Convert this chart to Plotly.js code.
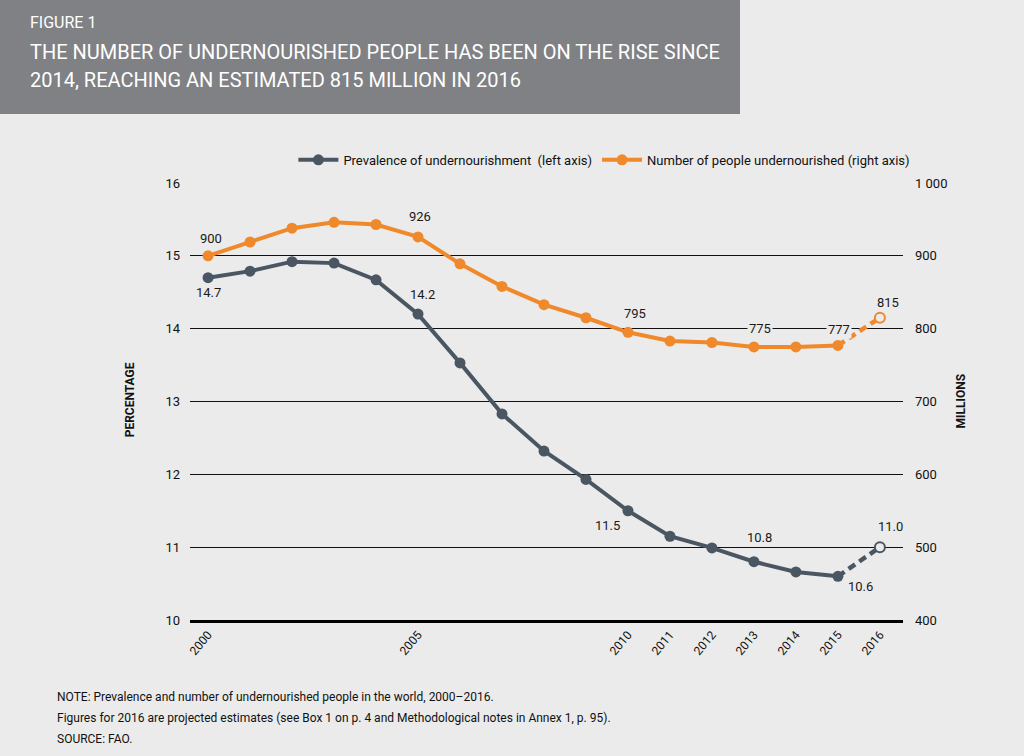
<!DOCTYPE html>
<html>
<head>
<meta charset="utf-8">
<script src="https://cdn.plot.ly/plotly-3.0.1.min.js"></script>
<style>
  html, body { margin: 0; padding: 0; background: #ebebeb; }
  #chart { width: 1024px; height: 756px; }
</style>
</head>
<body>
<div id="chart"></div>
<script>
// ---- data ----
const years = [2000, 2001, 2002, 2003, 2004, 2005, 2006, 2007, 2008, 2009, 2010, 2011, 2012, 2013, 2014, 2015, 2016];
const prevalence = [14.7, 14.79, 14.92, 14.90, 14.67, 14.2, 13.53, 12.83, 12.32, 11.93, 11.5, 11.15, 10.99, 10.8, 10.66, 10.6, 11.0];
const numberUnder = [900, 919, 938, 946, 943, 926, 889, 858, 833, 815, 795, 783, 781, 775, 775, 777, 815];
const xTickYears = [2000, 2005, 2010, 2011, 2012, 2013, 2014, 2015, 2016];
const leftTicks = [10, 11, 12, 13, 14, 15, 16];
const rightTicks = [400, 500, 600, 700, 800, 900, 1000];
const rightTickText = ['400', '500', '600', '700', '800', '900', '1 000'];
const prevLabelYears = [2000, 2005, 2010, 2013, 2015, 2016];
const numLabelYears = [2000, 2005, 2010, 2013, 2015, 2016];

const FONT = "Roboto, 'Liberation Sans', sans-serif";
const DARK = '#4a5762';
const ORANGE = '#f0892b';
const BG = '#ebebeb';

const lastSolid = years.length - 1; // index of 2016 (projected)
const solidYears = years.slice(0, lastSolid);

const traces = [
  {
    x: solidYears, y: prevalence.slice(0, lastSolid), yaxis: 'y',
    name: 'Prevalence of undernourishment  (left axis)',
    mode: 'lines+markers', line: {color: DARK, width: 4},
    marker: {color: DARK, size: 11}
  },
  {
    x: solidYears, y: numberUnder.slice(0, lastSolid), yaxis: 'y2',
    name: 'Number of people undernourished (right axis)',
    mode: 'lines+markers', line: {color: ORANGE, width: 4},
    marker: {color: ORANGE, size: 11}
  },
  {
    x: years.slice(lastSolid - 1), y: prevalence.slice(lastSolid - 1), yaxis: 'y',
    mode: 'lines', line: {color: DARK, width: 4.5, dash: '8px,5px'}, showlegend: false, hoverinfo: 'skip'
  },
  {
    x: years.slice(lastSolid - 1), y: numberUnder.slice(lastSolid - 1), yaxis: 'y2',
    mode: 'lines', line: {color: ORANGE, width: 4.5, dash: '8px,5px'}, showlegend: false, hoverinfo: 'skip'
  },
  {
    x: [years[lastSolid]], y: [prevalence[lastSolid]], yaxis: 'y',
    mode: 'markers', marker: {color: BG, size: 10, line: {color: DARK, width: 2}}, showlegend: false
  },
  {
    x: [years[lastSolid]], y: [numberUnder[lastSolid]], yaxis: 'y2',
    mode: 'markers', marker: {color: BG, size: 10, line: {color: ORANGE, width: 2}}, showlegend: false
  }
];

// label offsets (px) per year for each series
const prevOffsets = {2000: [0, -15], 2005: [4, 20], 2010: [-20, -15], 2013: [6, 24], 2015: [23, -10], 2016: [11, 21]};
const numOffsets = {2000: [3, 17], 2005: [2, 20], 2010: [7, 19], 2013: [6, 18], 2015: [1, 16], 2016: [8, 15]};

const annotations = [];
prevLabelYears.forEach(yr => {
  const i = years.indexOf(yr);
  annotations.push({
    x: yr, y: prevalence[i], xref: 'x', yref: 'y', showarrow: false,
    text: prevalence[i].toFixed(1), xshift: prevOffsets[yr][0], yshift: prevOffsets[yr][1],
    font: {family: FONT, size: 13, color: '#1a1a1a'}
  });
});
numLabelYears.forEach(yr => {
  const i = years.indexOf(yr);
  const onGrid = (yr === 2013 || yr === 2015);
  annotations.push({
    x: yr, y: numberUnder[i], xref: 'x', yref: 'y2', showarrow: false,
    text: String(numberUnder[i]), xshift: numOffsets[yr][0], yshift: numOffsets[yr][1],
    bgcolor: onGrid ? BG : 'rgba(0,0,0,0)', borderpad: 1,
    font: {family: FONT, size: 13, color: '#1a1a1a'}
  });
});

// header, axis titles and notes
annotations.push(
  {xref: 'paper', yref: 'paper', x: -0.2272, y: 1.368, xanchor: 'left', yanchor: 'middle', showarrow: false,
   text: 'FIGURE 1', font: {family: FONT, size: 16, color: '#ffffff'}},
  {xref: 'paper', yref: 'paper', x: -0.2272, y: 1.300, xanchor: 'left', yanchor: 'middle', showarrow: false,
   text: 'THE NUMBER OF UNDERNOURISHED PEOPLE HAS BEEN ON THE RISE SINCE', font: {family: FONT, size: 20, color: '#ffffff'}},
  {xref: 'paper', yref: 'paper', x: -0.2272, y: 1.236, xanchor: 'left', yanchor: 'middle', showarrow: false,
   text: '2014, REACHING AN ESTIMATED 815 MILLION IN 2016', font: {family: FONT, size: 20, color: '#ffffff'}},
  {xref: 'paper', yref: 'paper', x: -0.084, y: 0.503, xanchor: 'center', yanchor: 'middle', showarrow: false,
   textangle: -90, text: '<b>PERCENTAGE</b>', font: {family: FONT, size: 12, color: '#111111'}},
  {xref: 'paper', yref: 'paper', x: 1.08, y: 0.50, xanchor: 'center', yanchor: 'middle', showarrow: false,
   textangle: -90, text: '<b>MILLIONS</b>', font: {family: FONT, size: 12, color: '#111111'}},
  {xref: 'paper', yref: 'paper', x: -0.1893, y: -0.176, xanchor: 'left', yanchor: 'middle', showarrow: false,
   text: 'NOTE: Prevalence and number of undernourished people in the world, 2000–2016.', font: {family: FONT, size: 12, color: '#111111'}},
  {xref: 'paper', yref: 'paper', x: -0.1893, y: -0.2243, xanchor: 'left', yanchor: 'middle', showarrow: false,
   text: 'Figures for 2016 are projected estimates (see Box 1 on p. 4 and Methodological notes in Annex 1, p. 95).', font: {family: FONT, size: 12, color: '#111111'}},
  {xref: 'paper', yref: 'paper', x: -0.1893, y: -0.2723, xanchor: 'left', yanchor: 'middle', showarrow: false,
   text: 'SOURCE: FAO.', font: {family: FONT, size: 12, color: '#111111'}}
);

const layout = {
  width: 1024, height: 756,
  paper_bgcolor: BG, plot_bgcolor: BG,
  margin: {l: 190, r: 121, t: 183, b: 136, pad: 0},
  font: {family: FONT, size: 13, color: '#111111'},
  showlegend: true,
  legend: {orientation: 'h', x: 0.145, y: 1.053, xanchor: 'left', yanchor: 'middle',
           bgcolor: 'rgba(0,0,0,0)', font: {family: FONT, size: 13, color: '#111111'},
           itemwidth: 40, tracegroupgap: 0},
  xaxis: {
    range: [1999.57, 2016.55], tickmode: 'array', tickvals: xTickYears, ticktext: xTickYears.map(String),
    tickangle: -50, showgrid: false, zeroline: false, showline: true, linecolor: '#000000', linewidth: 3,
    ticks: '', ticklen: 0, tickfont: {family: FONT, size: 12, color: '#111111'}, automargin: false
  },
  yaxis: {
    range: [10, 16], tickmode: 'array', tickvals: leftTicks, showgrid: true, gridcolor: '#111111', gridwidth: 1,
    zeroline: false, showline: false, ticks: '', ticklabelstandoff: 9,
    tickfont: {family: FONT, size: 13, color: '#111111'}, automargin: false
  },
  yaxis2: {
    range: [400, 1000], overlaying: 'y', side: 'right', tickmode: 'array', tickvals: rightTicks, ticktext: rightTickText,
    showgrid: false, zeroline: false, showline: false, ticks: '', ticklabelstandoff: 11,
    tickfont: {family: FONT, size: 13, color: '#111111'}, automargin: false
  },
  shapes: [
    {type: 'rect', xref: 'paper', yref: 'paper', x0: -0.2665, x1: 0.7714, y0: 1.158, y1: 1.42,
     fillcolor: '#808184', line: {width: 0}, layer: 'below'}
  ],
  annotations: annotations
};

Plotly.newPlot('chart', traces, layout, {displayModeBar: false, staticPlot: true});
</script>
</body>
</html>
